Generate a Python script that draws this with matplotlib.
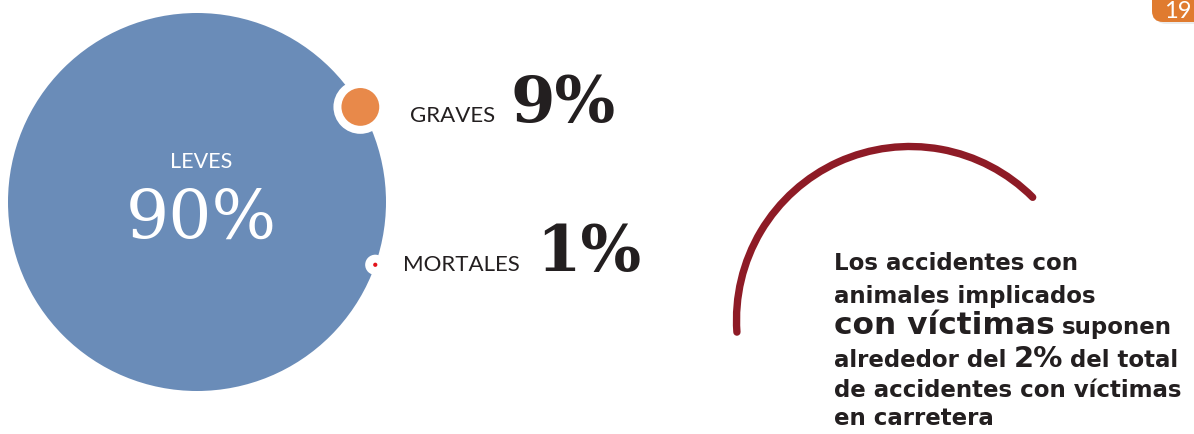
import matplotlib
matplotlib.use('Agg')
import matplotlib.pyplot as plt
from matplotlib.patches import Circle, Arc, FancyBboxPatch
import numpy as np

# data
categories = ['LEVES', 'GRAVES', 'MORTALES']
values = [90, 9, 1]
labels = ['90%', '9%', '1%']
page_number = '19'
note_lines = [
    [('Los accidentes con', 16.5)],
    [('animales implicados', 16.5)],
    [('con víctimas', 22.5), ('suponen', 16.5)],
    [('alrededor del', 16.5), ('2%', 21), ('del total', 16.5)],
    [('de accidentes con víctimas', 16.5)],
    [('en carretera', 16.5)],
]

BLUE = '#6A8CB8'
ORANGE = '#E8894A'
RED = '#E3131B'
ARC = '#8E1B26'
INK = '#231F20'
NUM_FONT = 'DejaVu Serif'
LAB_FONT = 'Lato'

W, H = 1194, 435
fig = plt.figure(figsize=(W / 100, H / 100), dpi=100)
ax = fig.add_axes([0, 0, 1, 1])
ax.set_xlim(0, W)
ax.set_ylim(H, 0)
ax.axis('off')

# big circle (radius proportional to value)
scale = 2.1
cx, cy = 197, 203
R = scale * values[0]
ax.add_patch(Circle((cx, cy), R, color=BLUE, lw=0))
ax.text(cx + 4, 168, categories[0], color='white', fontsize=15.5, family=LAB_FONT,
        ha='center', va='baseline')
ax.text(cx + 4, 238, labels[0], color='white', fontsize=49, family=NUM_FONT,
        ha='center', va='baseline')

# small circles on the edge
angles = [30.2, -19.4]
for val, ang, col in zip(values[1:], angles, [ORANGE, RED]):
    a = np.deg2rad(ang)
    px, py = cx + R * np.cos(a), cy - R * np.sin(a)
    r = scale * val
    ax.add_patch(Circle((px, py), r + 8, color='white', lw=0))
    ax.add_patch(Circle((px, py), r, color=col, lw=0))

ax.text(410, 122, categories[1], color=INK, fontsize=16, family=LAB_FONT,
        ha='left', va='baseline')
ax.text(510, 122, labels[1], color=INK, fontsize=46, family=NUM_FONT,
        ha='left', va='baseline', weight='bold')
ax.text(403, 271, categories[2], color=INK, fontsize=16, family=LAB_FONT,
        ha='left', va='baseline')
ax.text(536, 271, labels[2], color=INK, fontsize=46, family=NUM_FONT,
        ha='left', va='baseline', weight='bold')

# arc
ax.add_patch(Arc((910, 321), 2 * 173.5, 2 * 173.5, theta1=-184, theta2=-45,
                 color=ARC, lw=5.3, capstyle='round'))

# text block
renderer = fig.canvas.get_renderer()
baselines = [270, 303, 334, 367, 397, 425]
for line, yb in zip(note_lines, baselines):
    x = 834
    for txt, size in line:
        t = ax.text(x, yb, txt, fontsize=size, family='DejaVu Sans',
                    weight='bold', color=INK, ha='left', va='baseline')
        bb = t.get_window_extent(renderer)
        x += bb.width + 7

# page number tab
ax.add_patch(FancyBboxPatch((1155, -30), 70, 55, boxstyle='round,pad=0,rounding_size=11',
                            color='#D9D9D9', lw=0, alpha=0.5))
ax.add_patch(FancyBboxPatch((1152, -30), 70, 53, boxstyle='round,pad=0,rounding_size=11',
                            color='#E07B2F', lw=0))
ax.text(1164, 18, page_number, color='white', fontsize=17, family=LAB_FONT,
        ha='left', va='baseline')

fig.savefig('out.png', dpi=100)
